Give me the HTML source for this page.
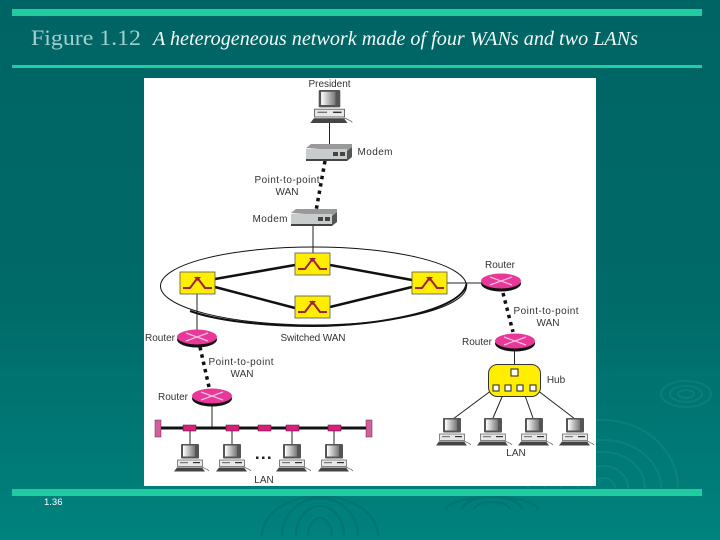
<!DOCTYPE html>
<html>
<head>
<meta charset="utf-8">
<style>
html,body{margin:0;padding:0;width:720px;height:540px;overflow:hidden;background:#006666}
svg{display:block}
.l{font-family:"Liberation Sans",sans-serif;font-size:10px;fill:#333;text-anchor:middle}
</style>
</head>
<body>
<svg width="720" height="540" viewBox="0 0 720 540" xmlns="http://www.w3.org/2000/svg">
<defs>
<linearGradient id="bg" x1="0" y1="0" x2="0" y2="1">
<stop offset="0" stop-color="#006464"/><stop offset="0.55" stop-color="#006a68"/><stop offset="1" stop-color="#00827e"/>
</linearGradient>
<linearGradient id="scr" x1="0" y1="0" x2="1" y2="0">
<stop offset="0" stop-color="#fff"/><stop offset="1" stop-color="#777"/>
</linearGradient>
<g id="pc">
<rect x="-9" y="0" width="18" height="14.500" rx="1" fill="#555"/>
<rect x="-7" y="1.500" width="12" height="11" fill="url(#scr)"/>
<rect x="-12.500" y="16" width="25" height="6.500" fill="#e8e8e8" stroke="#555" stroke-width=".7"/>
<rect x="-10" y="18" width="8" height="1.200" fill="#777"/>
<rect x="3" y="18" width="7" height="1.200" fill="#333"/>
<path d="M-16 27.500l3-4h25l3 4z" fill="#444"/>
<path d="M12 23.500c3 0 3 1.500 4 1.500s2 1 3 2" fill="none" stroke="#666" stroke-width=".7"/>
</g>
<g id="router">
<ellipse cx="0" cy="2.500" rx="20" ry="8" fill="#111"/>
<ellipse cx="0" cy="0" rx="20" ry="7.500" fill="#e8389a"/>
<path d="M-11-4L11 4M-11 4L11-4" stroke="#f8c0dc" stroke-width="1.200"/>
</g>
<g id="sw">
<rect x="0" y="0" width="35" height="22" fill="#ffee00" stroke="#555" stroke-width=".8"/>
<path d="M3 16h7l7.500-10 7.500 10h7" fill="none" stroke="#a02040" stroke-width="2"/>
<path d="M14 5h7l-3.500 4z" fill="#a02040"/>
</g>
<g id="modem">
<path d="M0 3l5-4h41v3l-5 4z" fill="#999"/>
<path d="M41 6l5-4v10l-5 4z" fill="#555"/>
<rect x="0" y="4" width="41" height="12" fill="#c8cccc"/>
<rect x="0" y="14" width="41" height="2" fill="#444"/>
<rect x="27" y="7" width="5" height="4" fill="#444"/>
<rect x="34" y="7" width="5" height="4" fill="#444"/>
</g>
</defs>

<rect width="720" height="540" fill="url(#bg)"/>

<!-- ripples -->
<g fill="none" stroke="#2fa595" stroke-opacity=".22" stroke-width="2">
<ellipse cx="686" cy="394" rx="8" ry="4"/><ellipse cx="686" cy="394" rx="16" ry="8"/><ellipse cx="686" cy="394" rx="25" ry="13"/>
<path d="M591 488A12 10 0 0 1 615 488M578 488A25 22 0 0 1 628 488M561 488A42 36 0 0 1 645 488M545 488A58 48 0 0 1 661 488M528 488A75 68 0 0 1 678 488"/>
</g>
<g fill="none" stroke="#00605e" stroke-opacity=".32" stroke-width="2">
<path d="M308 536A12 18 0 0 1 332 536M296 536A24 30 0 0 1 344 536M282 536A38 38 0 0 1 358 536M262 536A58 40 0 0 1 378 536"/>
<path d="M474 510A18 8 0 0 1 510 510M462 510A30 13 0 0 1 522 510M446 510A46 13 0 0 1 538 510"/>
</g>

<!-- rules -->
<rect x="12" y="9" width="690" height="7" fill="#20cca0"/>
<rect x="12" y="65" width="690" height="3" fill="#20cca0"/>
<rect x="12" y="489" width="690" height="7" fill="#20cca0"/>

<!-- title -->
<text x="31" y="45" font-family="'Liberation Serif',serif" font-size="22" fill="#a0d0d0" textLength="110" lengthAdjust="spacingAndGlyphs">Figure 1.12</text>
<text x="153" y="45" font-family="'Liberation Serif',serif" font-style="italic" font-size="20" fill="#f2fafa" textLength="485" lengthAdjust="spacingAndGlyphs">A heterogeneous network made of four WANs and two LANs</text>
<text x="44" y="505" font-family="'Liberation Sans',sans-serif" font-size="9.500" fill="#fff">1.36</text>

<!-- white panel -->
<rect x="144" y="78" width="452" height="408" fill="#fff"/>

<!-- connectors -->
<g stroke="#222" stroke-width="1" fill="none">
<path d="M329.500 123V148M313 225V254M197 294V331M446 283H481M514.500 350V366M212 405V428"/>
<path d="M190 431V445M232 431V445M292 431V445M334 431V445"/>
<path d="M492 390L453 419M505 390L493 418M523 390L533 418M537 390L575 419"/>
</g>
<g stroke="#111" stroke-width="3.500" fill="none" stroke-dasharray="3.500 4">
<path d="M325 161L316 211M503 293L513 332M200 347L209 387"/>
</g>

<!-- switched WAN -->
<ellipse cx="313.500" cy="286" rx="153" ry="39" fill="none" stroke="#111" stroke-width="1"/>
<path d="M466.500 284C462 310 380 326 313 326C260 326 215 320 190 311" fill="none" stroke="#111" stroke-width="2"/>
<g stroke="#111" stroke-width="2.500" fill="none">
<path d="M215 279L295 265M215 287L295 308M330 265L412 280M330 307L412 287"/>
</g>
<use href="#sw" x="180" y="272"/>
<use href="#sw" x="295" y="253"/>
<use href="#sw" x="295" y="296"/>
<use href="#sw" x="412" y="272"/>

<!-- bus -->
<rect x="158" y="426.500" width="210" height="3" fill="#111"/>
<g fill="#d8207a" stroke="#551133" stroke-width=".5">
<rect x="183" y="425" width="13" height="6"/><rect x="226" y="425" width="13" height="6"/><rect x="258" y="425" width="13" height="6"/><rect x="286" y="425" width="13" height="6"/><rect x="328" y="425" width="13" height="6"/>
</g>
<g fill="#d060a0" stroke="#662244" stroke-width=".5">
<rect x="155" y="420" width="6" height="17"/><rect x="366" y="420" width="6" height="17"/>
</g>

<!-- routers -->
<use href="#router" x="197" y="337"/>
<use href="#router" x="501" y="281"/>
<use href="#router" x="515" y="341"/>
<use href="#router" x="212" y="396"/>

<!-- modems -->
<use href="#modem" x="306" y="145"/>
<use href="#modem" x="291" y="210"/>

<!-- hub -->
<rect x="488.500" y="364.500" width="52" height="32" rx="9" fill="#ffee00" stroke="#333" stroke-width="1"/>
<g fill="#fff" stroke="#222" stroke-width="1">
<rect x="511" y="369" width="7" height="7"/>
<rect x="493" y="385" width="6" height="6"/><rect x="505" y="385" width="6" height="6"/><rect x="517" y="385" width="6" height="6"/><rect x="530" y="385" width="6" height="6"/>
</g>

<!-- computers -->
<use href="#pc" transform="translate(329.500 90) scale(1.200)"/>
<use href="#pc" x="452" y="418"/>
<use href="#pc" x="493" y="418"/>
<use href="#pc" x="534" y="418"/>
<use href="#pc" x="575" y="418"/>
<use href="#pc" x="190" y="444"/>
<use href="#pc" x="232" y="444"/>
<use href="#pc" x="292" y="444"/>
<use href="#pc" x="334" y="444"/>
<g fill="#222"><rect x="256" y="456.500" width="2.500" height="2.500"/><rect x="262" y="456.500" width="2.500" height="2.500"/><rect x="268" y="456.500" width="2.500" height="2.500"/></g>

<!-- labels -->
<text class="l" x="329.500" y="87" textLength="42">President</text>
<text class="l" x="375" y="155" textLength="35">Modem</text>
<text class="l" x="287" y="183" textLength="65">Point-to-point</text>
<text class="l" x="287" y="195">WAN</text>
<text class="l" x="270" y="222" textLength="35">Modem</text>
<text class="l" x="160" y="341" textLength="30">Router</text>
<text class="l" x="313" y="341" textLength="65">Switched WAN</text>
<text class="l" x="500" y="268" textLength="30">Router</text>
<text class="l" x="546" y="314" textLength="65">Point-to-point</text>
<text class="l" x="548" y="326">WAN</text>
<text class="l" x="477" y="345" textLength="30">Router</text>
<text class="l" x="556" y="383">Hub</text>
<text class="l" x="241" y="365" textLength="65">Point-to-point</text>
<text class="l" x="242" y="377">WAN</text>
<text class="l" x="173" y="400" textLength="30">Router</text>
<text class="l" x="516" y="456">LAN</text>
<text class="l" x="264" y="483">LAN</text>
</svg>
</body>
</html>
